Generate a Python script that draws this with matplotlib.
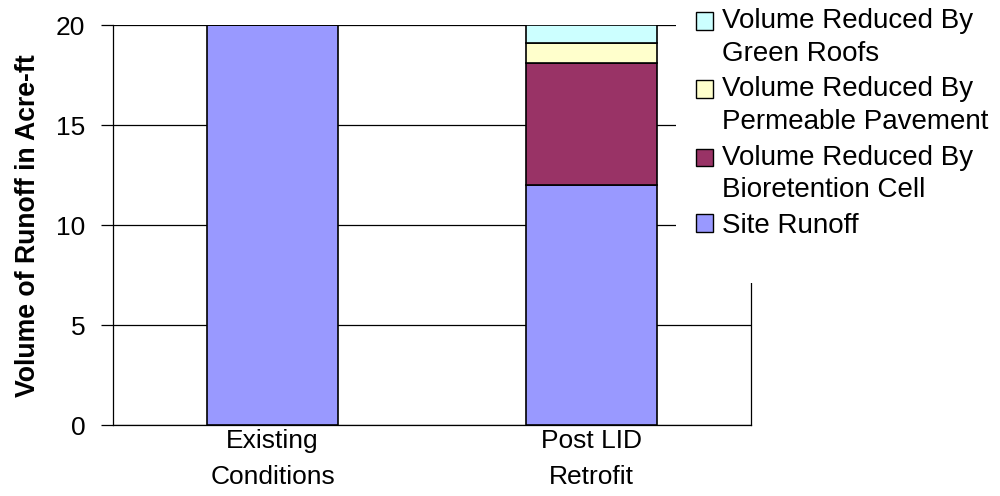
import matplotlib.pyplot as plt
from matplotlib.patches import Rectangle
from matplotlib.legend_handler import HandlerPatch

plt.rcParams['font.family'] = ['Liberation Sans', 'DejaVu Sans']

categories = ['Existing\nConditions', 'Post LID\nRetrofit']
site_runoff = [20.0, 12.0]
bioretention = [0.0, 6.1]
permeable = [0.0, 1.0]
green_roofs = [0.0, 0.9]

series = [
    ('Site Runoff', site_runoff, '#9999FF'),
    ('Volume Reduced By\nBioretention Cell', bioretention, '#993366'),
    ('Volume Reduced By\nPermeable Pavement', permeable, '#FFFFCC'),
    ('Volume Reduced By\nGreen Roofs', green_roofs, '#CCFFFF'),
]


class TopLineHandler(HandlerPatch):
    # puts the legend box next to the first line of a two-line label
    def __init__(self, shift):
        super().__init__()
        self.shift = shift

    def create_artists(self, legend, orig_handle, xdescent, ydescent,
                       width, height, fontsize, trans):
        return super().create_artists(legend, orig_handle, xdescent,
                                      ydescent - self.shift, width, height,
                                      fontsize, trans)


fig = plt.figure(figsize=(10, 4.96), dpi=100)
ax = fig.add_axes([0.113, 0.143, 0.638, 0.806])

x = list(range(len(categories)))
bottom = [0.0] * len(categories)
handles = []
for name, vals, col in series:
    b = ax.bar(x, vals, width=0.41, bottom=bottom, color=col,
               edgecolor='black', linewidth=1.2, label=name, zorder=3)
    handles.append(b.patches[1])
    bottom = [bottom[i] + vals[i] for i in range(len(vals))]

ax.set_xlim(-0.5, 1.5)
ax.set_ylim(0, 20)
ax.set_yticks([0, 5, 10, 15, 20])
ax.yaxis.grid(True, color='black', linewidth=0.9, zorder=0)
ax.set_xticks(x)
ax.set_xticklabels(categories, fontsize=19, linespacing=1.6)
ax.tick_params(axis='x', length=0, pad=3)
ax.tick_params(axis='y', length=9, width=0.9, labelsize=19, pad=11)
for s in ax.spines.values():
    s.set_linewidth(0.9)
ax.spines['top'].set_visible(False)
ax.set_ylabel('Volume of Runoff in Acre-ft', fontsize=19.2, fontweight='bold',
              labelpad=11)

# white area behind the legend hides the grid and the right border there
fig.patches.append(Rectangle((0.676, 1 - 283 / 496), 0.4, 0.6,
                             transform=fig.transFigure, facecolor='white',
                             edgecolor='none', zorder=1))

labels = [s[0] for s in series[::-1]]
leg_handles = handles[::-1]
hmap = {}
for h, lab in zip(leg_handles, labels):
    if '\n' in lab:
        hmap[h] = TopLineHandler(12)

leg = fig.legend(leg_handles, labels, handler_map=hmap,
                 loc='upper left', bbox_to_anchor=(0.696, 0.983),
                 fontsize=20, frameon=False,
                 handlelength=0.6, handleheight=0.6, handletextpad=0.35,
                 labelspacing=0.34, borderpad=0.0, borderaxespad=0.0)
leg.set_zorder(5)
for t in leg.get_texts():
    t.set_linespacing(1.33)
for p in leg.get_patches():
    p.set_linewidth(1.0)

fig.savefig('out.png', dpi=100)
